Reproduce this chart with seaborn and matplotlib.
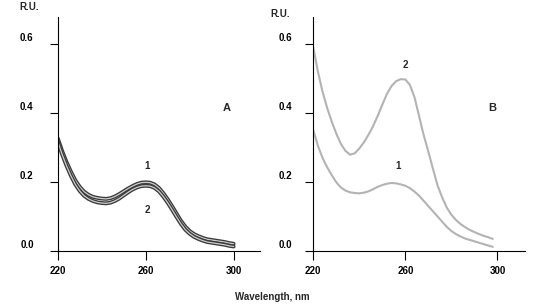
import numpy as np
import pandas as pd
import seaborn as sns
import matplotlib.pyplot as plt
from matplotlib.transforms import ScaledTranslation

# wavelengths, nm
wl_a = [220, 222, 224, 226, 228, 230, 232, 234, 236, 238, 240,
        242, 244, 246, 248, 250, 252, 254, 256, 258, 260,
        262, 264, 266, 268, 270, 272, 274, 276, 278, 280,
        282, 284, 286, 288, 290, 292, 294, 296, 298, 300]
wl_b = wl_a[:-1]

# panel A, curves 1 and 2
a_curve1 = [0.327, 0.290, 0.258, 0.230, 0.205, 0.186, 0.172, 0.163, 0.157, 0.154, 0.152,
            0.151, 0.153, 0.158, 0.165, 0.173, 0.181, 0.188, 0.194, 0.198, 0.199,
            0.198, 0.193, 0.183, 0.168, 0.150, 0.130, 0.109, 0.088, 0.071, 0.058,
            0.049, 0.043, 0.038, 0.034, 0.032, 0.030, 0.028, 0.026, 0.023, 0.021]
a_curve2 = [0.318, 0.280, 0.247, 0.218, 0.193, 0.174, 0.160, 0.151, 0.145, 0.141, 0.139,
            0.138, 0.140, 0.145, 0.152, 0.161, 0.170, 0.178, 0.184, 0.188, 0.189,
            0.188, 0.183, 0.173, 0.158, 0.140, 0.120, 0.099, 0.079, 0.062, 0.050,
            0.041, 0.035, 0.030, 0.026, 0.024, 0.022, 0.020, 0.018, 0.015, 0.013]

# panel B, curves 1 and 2
b_curve1 = [0.350, 0.305, 0.270, 0.243, 0.220, 0.199, 0.184, 0.175, 0.170, 0.168, 0.167,
            0.169, 0.173, 0.179, 0.186, 0.191, 0.195, 0.197, 0.196, 0.193, 0.189,
            0.182, 0.172, 0.160, 0.145, 0.130, 0.115, 0.100, 0.085, 0.070, 0.058,
            0.049, 0.042, 0.036, 0.032, 0.028, 0.024, 0.020, 0.016, 0.012]
b_curve2 = [0.590, 0.520, 0.462, 0.415, 0.375, 0.340, 0.310, 0.290, 0.279, 0.283, 0.297,
            0.315, 0.337, 0.362, 0.392, 0.424, 0.455, 0.478, 0.492, 0.498, 0.497,
            0.481, 0.445, 0.390, 0.335, 0.288, 0.238, 0.190, 0.155, 0.126, 0.105,
            0.090, 0.078, 0.069, 0.061, 0.055, 0.049, 0.044, 0.040, 0.035]

x_ticks = [220, 260, 300]
y_ticks = [0.0, 0.2, 0.4, 0.6]

sns.set_style("white")
plt.rcParams['font.family'] = ['Liberation Sans', 'DejaVu Sans']
plt.rcParams['font.size'] = 7
plt.rcParams['font.weight'] = 'bold'

fig = plt.figure(figsize=(5.38, 3.08), dpi=100)
ax_a = fig.add_axes([57.7 / 538, 1 - 251 / 308, (260 - 57.7) / 538, (251 - 17) / 308])
ax_b = fig.add_axes([313.3 / 538, 1 - 251 / 308, (525 - 313.3) / 538, (251 - 17) / 308])

df_a = pd.DataFrame({'wl': wl_a, 'c1': a_curve1, 'c2': a_curve2})
df_b = pd.DataFrame({'wl': wl_b, 'c1': b_curve1, 'c2': b_curve2})

# panel A: dark-edged grey band lines
for col in ['c1', 'c2']:
    sns.lineplot(data=df_a, x='wl', y=col, ax=ax_a, color='#3a3a3a', lw=2.8)
    sns.lineplot(data=df_a, x='wl', y=col, ax=ax_a, color='#cdcdcd', lw=0.9)

# panel B: pale grainy lines
for col in ['c1', 'c2']:
    sns.lineplot(data=df_b, x='wl', y=col, ax=ax_b, color='#b3b3b3', lw=1.5)

for ax, pad_y in [(ax_a, 11.5), (ax_b, 9.4)]:
    ax.set_xlim(220, 312)
    ax.set_ylim(0, 0.678)
    ax.set_xticks(x_ticks)
    ax.set_yticks(y_ticks)
    ax.set_yticklabels([f"{v:.1f}" for v in y_ticks])
    ax.set_xlabel("")
    ax.set_ylabel("")
    for s in ['top', 'right']:
        ax.spines[s].set_visible(False)
    for s in ['left', 'bottom']:
        ax.spines[s].set_color('black')
        ax.spines[s].set_linewidth(0.8)
    ax.tick_params(axis='y', direction='out', length=5.8, width=0.8, pad=pad_y,
                   left=True, colors='black', labelsize=7)
    ax.tick_params(axis='x', direction='out', length=6.5, width=0.8, pad=4.5,
                   bottom=True, colors='black', labelsize=7)
    for lab in ax.get_yticklabels():
        lab.set_transform(lab.get_transform() + ScaledTranslation(0, 7 / 100, fig.dpi_scale_trans))
    ax.set_facecolor('white')

ax_a.text(296.8, 0.414, "A", fontsize=8, fontweight='bold', ha='center', va='center')
ax_a.text(260.8, 0.246, "1", fontsize=7, fontweight='bold', ha='center', va='center')
ax_a.text(260.8, 0.119, "2", fontsize=7, fontweight='bold', ha='center', va='center')

ax_b.text(297.9, 0.414, "B", fontsize=8, fontweight='bold', ha='center', va='center')
ax_b.text(259.9, 0.539, "2", fontsize=7, fontweight='bold', ha='center', va='center')
ax_b.text(256.8, 0.246, "1", fontsize=7, fontweight='bold', ha='center', va='center')

fig.text(19 / 538, 1 - 7.5 / 308, "R.U.", fontsize=7, fontweight='bold', ha='left', va='center')
fig.text(270 / 538, 1 - 14 / 308, "R.U.", fontsize=7, fontweight='bold', ha='left', va='center')
fig.text(272 / 538, 1 - 297 / 308, "Wavelength, nm", fontsize=7, fontweight='bold',
         ha='center', va='center')

fig.savefig("out.png", dpi=100, facecolor='white')
